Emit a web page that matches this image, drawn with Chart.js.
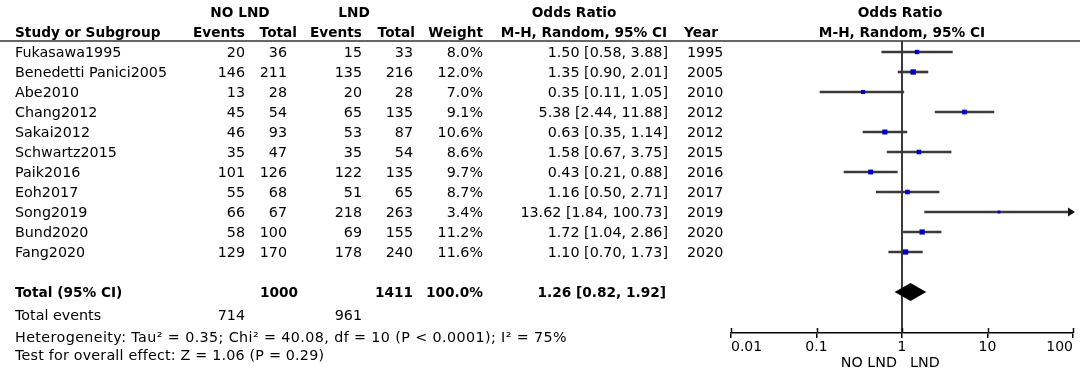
<!DOCTYPE html>
<html>
<head>
<meta charset="utf-8">
<script src="https://cdn.jsdelivr.net/npm/chart.js@4.4.1/dist/chart.umd.min.js"></script>
<style>
  html, body { margin: 0; padding: 0; background: #fff; }
  #wrap { width: 1080px; height: 374px; }
</style>
</head>
<body>
<div id="wrap"><canvas id="forest" width="1080" height="374"></canvas></div>
<script>
const studies = ['Fukasawa1995', 'Benedetti Panici2005', 'Abe2010', 'Chang2012', 'Sakai2012',
  'Schwartz2015', 'Paik2016', 'Eoh2017', 'Song2019', 'Bund2020', 'Fang2020'];
const noEvents = [20, 146, 13, 45, 46, 35, 101, 55, 66, 58, 129];
const noTotal = [36, 211, 28, 54, 93, 47, 126, 68, 67, 100, 170];
const lndEvents = [15, 135, 20, 65, 53, 35, 122, 51, 218, 69, 178];
const lndTotal = [33, 216, 28, 135, 87, 54, 135, 65, 263, 155, 240];
const weights = [8.0, 12.0, 7.0, 9.1, 10.6, 8.6, 9.7, 8.7, 3.4, 11.2, 11.6];
const orEst = [1.50, 1.35, 0.35, 5.38, 0.63, 1.58, 0.43, 1.16, 13.62, 1.72, 1.10];
const orLow = [0.58, 0.90, 0.11, 2.44, 0.35, 0.67, 0.21, 0.50, 1.84, 1.04, 0.70];
const orHigh = [3.88, 2.01, 1.05, 11.88, 1.14, 3.75, 0.88, 2.71, 100.73, 2.86, 1.73];
const years = [1995, 2005, 2010, 2012, 2012, 2015, 2016, 2017, 2019, 2020, 2020];
const totalOR = [1.26, 0.82, 1.92]; // estimate, low, high
const totalWeight = '100.0%';
const heterogeneity = 'Heterogeneity: Tau\u00B2 = 0.35; Chi\u00B2 = 40.08, df = 10 (P < 0.0001); I\u00B2 = 75%';
const overallTest = 'Test for overall effect: Z = 1.06 (P = 0.29)';
const xTicks = [0.01, 0.1, 1, 10, 100];

const rows = studies.map((s, i) => i + 1);
const totalRow = 13;
const sum = (a) => a.reduce((s, v) => s + v, 0);

const FONT = 'DejaVu Sans';
Chart.defaults.font.family = FONT;
Chart.defaults.color = '#000';

const fmt = (v) => v.toFixed(2);
const ciText = (e, l, h) => fmt(e) + ' [' + fmt(l) + ', ' + fmt(h) + ']';

// table text, header rule, axis ticks, arrows and summary diamond
const forestPlugin = {
  id: 'forestExtras',
  afterDatasetsDraw(chart) {
    const ctx = chart.ctx;
    const x = chart.scales.x, y = chart.scales.y;
    const area = chart.chartArea;
    ctx.save();
    // summary diamond
    const ty = y.getPixelForValue(totalRow);
    ctx.fillStyle = '#000';
    ctx.beginPath();
    ctx.moveTo(x.getPixelForValue(totalOR[1]), ty);
    ctx.lineTo(x.getPixelForValue(totalOR[0]), ty - 9);
    ctx.lineTo(x.getPixelForValue(totalOR[2]), ty);
    ctx.lineTo(x.getPixelForValue(totalOR[0]), ty + 9);
    ctx.closePath();
    ctx.fill();
    // arrows for intervals running off the axis
    ctx.fillStyle = '#111';
    orHigh.forEach((h, i) => {
      if (h <= x.max) return;
      const py = y.getPixelForValue(rows[i]);
      ctx.beginPath();
      ctx.moveTo(area.right + 2, py);
      ctx.lineTo(area.right - 5, py - 4.5);
      ctx.lineTo(area.right - 5, py + 4.5);
      ctx.closePath();
      ctx.fill();
    });
    ctx.restore();
  },
  afterDraw(chart) {
    const ctx = chart.ctx;
    const x = chart.scales.x, y = chart.scales.y;
    const area = chart.chartArea;
    const put = (str, px, py, align, bold) => {
      ctx.font = (bold ? 'bold 13.7px ' : '14.3px ') + FONT;
      ctx.textAlign = align || 'left';
      ctx.textBaseline = 'alphabetic';
      ctx.fillText(str, px, py + 5);
    };
    ctx.save();
    // header rule across the whole figure
    ctx.strokeStyle = '#333';
    ctx.lineWidth = 1.5;
    ctx.beginPath();
    ctx.moveTo(0, area.top);
    ctx.lineTo(chart.width, area.top);
    ctx.stroke();
    // upward half of axis ticks
    ctx.strokeStyle = '#000';
    xTicks.forEach((v) => {
      const px = Math.round(x.getPixelForValue(v)) + 0.5;
      ctx.beginPath();
      ctx.moveTo(px, area.bottom - 5);
      ctx.lineTo(px, area.bottom);
      ctx.stroke();
    });

    ctx.fillStyle = '#000';
    const h1 = area.top - 29, h2 = area.top - 9;
    put('NO LND', 240, h1, 'center', true);
    put('LND', 354, h1, 'center', true);
    put('Odds Ratio', 574, h1, 'center', true);
    put('Odds Ratio', x.getPixelForValue(1) - 2, h1, 'center', true);
    put('Study or Subgroup', 15, h2, 'left', true);
    put('Events', 245, h2, 'right', true);
    put('Total', 297, h2, 'right', true);
    put('Events', 362, h2, 'right', true);
    put('Total', 415, h2, 'right', true);
    put('Weight', 483, h2, 'right', true);
    put('M-H, Random, 95% CI', 584, h2, 'center', true);
    put('Year', 718, h2, 'right', true);
    put('M-H, Random, 95% CI', x.getPixelForValue(1), h2, 'center', true);

    studies.forEach((s, i) => {
      const py = y.getPixelForValue(rows[i]);
      put(s, 15, py);
      put(String(noEvents[i]), 245, py, 'right');
      put(String(noTotal[i]), 287, py, 'right');
      put(String(lndEvents[i]), 362, py, 'right');
      put(String(lndTotal[i]), 413, py, 'right');
      put(weights[i].toFixed(1) + '%', 483, py, 'right');
      put(ciText(orEst[i], orLow[i], orHigh[i]), 668, py, 'right');
      put(String(years[i]), 687, py, 'left');
    });

    const ty = y.getPixelForValue(totalRow);
    put('Total (95% CI)', 15, ty, 'left', true);
    put(String(sum(noTotal)), 298, ty, 'right', true);
    put(String(sum(lndTotal)), 413, ty, 'right', true);
    put(totalWeight, 483, ty, 'right', true);
    put(ciText(totalOR[0], totalOR[1], totalOR[2]), 666, ty, 'right', true);
    put('Total events', 15, ty + 23);
    put(String(sum(noEvents)), 245, ty + 23, 'right');
    put(String(sum(lndEvents)), 362, ty + 23, 'right');
    ctx.save();
    ctx.letterSpacing = '0.4px';
    put(heterogeneity, 15, ty + 45);
    ctx.letterSpacing = '0.2px';
    put(overallTest, 15, ty + 63);
    ctx.restore();

    const x1 = x.getPixelForValue(1);
    put('NO LND', x1 - 5, area.bottom + 29, 'right');
    put('LND', x1 + 8, area.bottom + 29, 'left');
    ctx.restore();
  }
};

new Chart(document.getElementById('forest'), {
  type: 'bar',
  data: {
    datasets: [
      {
        type: 'scatter',
        data: rows.map((r, i) => ({ x: orEst[i], y: r })),
        pointStyle: 'rect',
        pointRadius: weights.map((w) => 1.1 * Math.sqrt(w)),
        pointBorderWidth: 0,
        backgroundColor: '#0000c8',
        borderColor: '#0000c8',
        order: 1
      },
      {
        type: 'bar',
        indexAxis: 'y',
        data: rows.map((r, i) => ({ x: [orLow[i], orHigh[i]], y: r })),
        backgroundColor: '#3a3a3a',
        barThickness: 2,
        grouped: false,
        borderSkipped: false,
        order: 2
      },
      {
        type: 'line',
        data: [{ x: 1, y: 0.45 }, { x: 1, y: 15.05 }],
        borderColor: '#3a3a3a',
        borderWidth: 2,
        pointRadius: 0,
        order: 3
      }
    ]
  },
  options: {
    indexAxis: 'y',
    responsive: false,
    animation: false,
    devicePixelRatio: 1,
    layout: { padding: { left: 731, right: 7, top: 41, bottom: 0 } },
    plugins: { legend: { display: false }, tooltip: { enabled: false } },
    scales: {
      x: {
        type: 'logarithmic',
        position: 'bottom',
        min: 0.01,
        max: 100,
        afterBuildTicks: (s) => { s.ticks = xTicks.map((v) => ({ value: v })); },
        afterFit: (s) => { s.height = 41; },
        border: { color: '#000', width: 1.5 },
        grid: { drawOnChartArea: false, tickLength: 5, color: '#000', lineWidth: 1.5 },
        ticks: {
          align: 'inner',
          padding: 1,
          maxRotation: 0,
          autoSkip: false,
          font: { size: 14 },
          color: '#000',
          callback: (v) => String(v)
        }
      },
      y: {
        type: 'linear',
        display: false,
        reverse: true,
        offset: false,
        grace: 0,
        min: 0.45,
        max: 15.05
      }
    }
  },
  plugins: [forestPlugin]
});
</script>
</body>
</html>
